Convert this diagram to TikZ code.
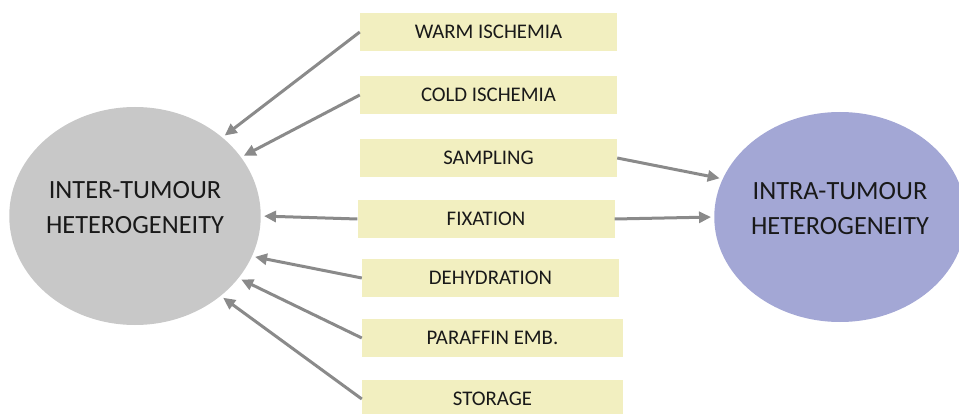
\documentclass[tikz,border=0pt]{standalone}
\usepackage{fontspec}
\setmainfont{Carlito}
\usetikzlibrary{arrows.meta,shapes.geometric}
\definecolor{boxyellow}{RGB}{242,239,192}
\definecolor{intergray}{RGB}{200,200,200}
\definecolor{intrablue}{RGB}{163,167,213}
\definecolor{arrowgray}{RGB}{138,138,138}
\begin{document}
\begin{tikzpicture}[x=1pt,y=-1pt,
		factor/.style={fill=boxyellow,minimum width=257pt,minimum height=38pt,inner sep=0pt,
			text=black!90,font=\fontsize{20.8}{24}\selectfont},
		hetero/.style={ellipse,inner sep=0pt,align=center,text=black!90,text depth=17pt,
			font=\fontsize{26.3}{35}\selectfont},
		link/.style={arrowgray,line width=3pt,-{Triangle[length=12pt,width=11pt]},shorten >=3pt} ]
	\useasboundingbox (0,0) rectangle (959,414);
	\clip (0,0) rectangle (959,414);
	\node [hetero,fill=intergray,minimum width=248pt,minimum height=218pt] (inter) at (135,216)
		{INTER-TUMOUR\\HETEROGENEITY};
	\node [hetero,fill=intrablue,minimum width=250pt,minimum height=210pt] (intra) at (840,217)
		{INTRA-TUMOUR\\HETEROGENEITY};
	\node [factor] (wi) at (488.5,32) {WARM ISCHEMIA};
	\node [factor] (ci) at (488.5,95) {COLD ISCHEMIA};
	\node [factor] (sa) at (488.5,158) {SAMPLING};
	\node [factor] (fi) at (486,219) {FIXATION};
	\node [factor] (de) at (490.5,278) {DEHYDRATION};
	\node [factor,minimum width=261pt] (pe) at (492.5,338) {PARAFFIN EMB.};
	\node [factor,minimum width=261pt] (st) at (492.5,399) {STORAGE};
	\draw [link] (wi.west) -- (inter.42);
	\draw [link] (ci.west) -- (inter.29);
	\draw [link] (fi.west) -- (inter.0);
	\draw [link] (de.west) -- (inter.-19);
	\draw [link] (pe.west) -- (inter.-31);
	\draw [link] (st.west) -- (inter.-43);
	\draw [link] (sa.east) -- (intra.162);
	\draw [link] (fi.east) -- (intra.180);
\end{tikzpicture}
\end{document}
